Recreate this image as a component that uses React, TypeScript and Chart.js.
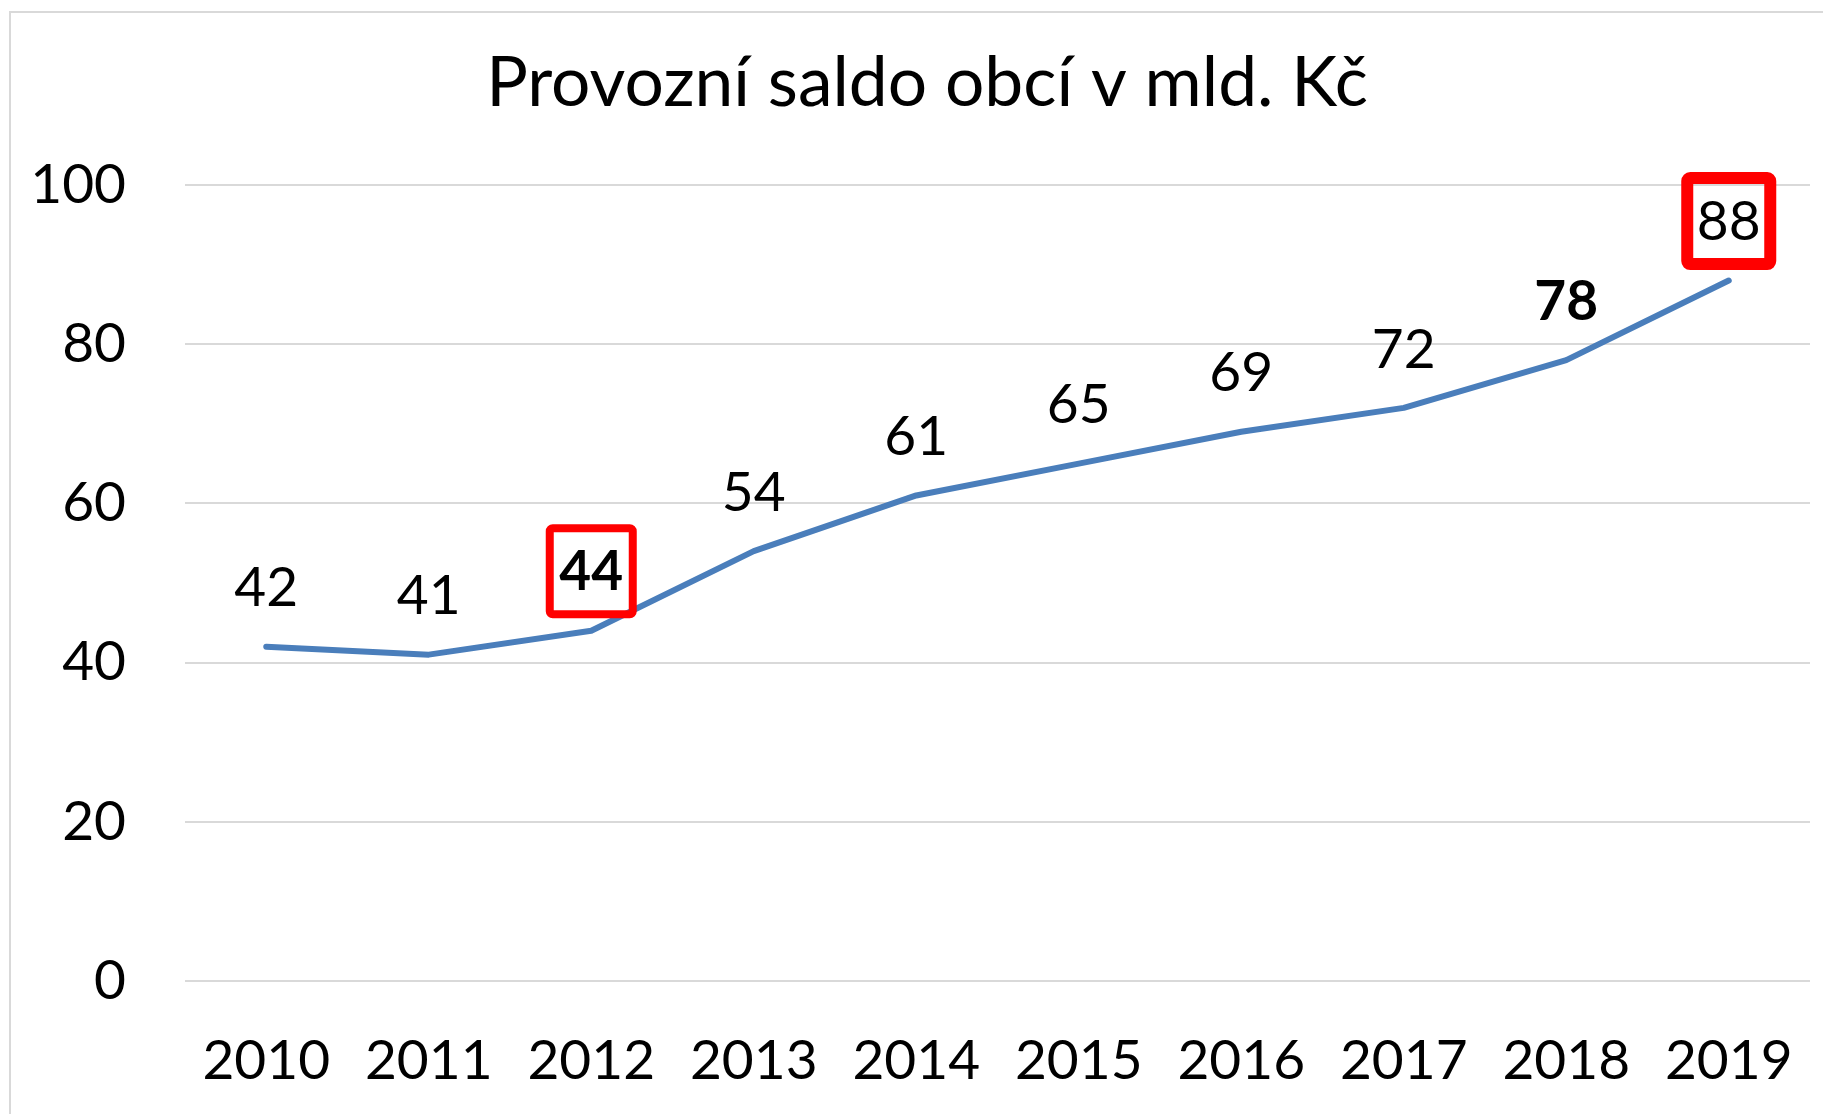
import React, { useEffect, useRef } from 'react';
import { Chart, registerables } from 'chart.js';

Chart.register(...registerables);

const years = ['2010', '2011', '2012', '2013', '2014', '2015', '2016', '2017', '2018', '2019'];
const saldo = [42, 41, 44, 54, 61, 65, 69, 72, 78, 88];
const boldIndexes = [2, 8];
const boxedIndexes = [2, 9];
const boxLineWidths = [8, 12];
const yMin = 0;
const yMax = 100;
const yStep = 20;
const chartTitle = 'Provozní saldo obcí v mld. Kč';

const FONT = 'Lato';
const LABEL_SIZE = 55;

const frameAndLabels = {
  id: 'frameAndLabels',
  beforeDraw(chart: any) {
    const ctx = chart.ctx;
    ctx.save();
    ctx.fillStyle = '#ffffff';
    ctx.fillRect(0, 0, chart.width, chart.height);
    ctx.strokeStyle = '#d9d9d9';
    ctx.lineWidth = 2;
    ctx.strokeRect(10, 12, chart.width + 20, chart.height + 20);
    ctx.font = `69.5px ${FONT}`;
    ctx.fillStyle = '#000000';
    ctx.textAlign = 'center';
    ctx.textBaseline = 'middle';
    ctx.fillText(chartTitle, 927, 84);
    ctx.restore();
  },
  afterDatasetsDraw(chart: any) {
    const ctx = chart.ctx;
    const meta = chart.getDatasetMeta(0);
    ctx.save();
    ctx.textAlign = 'center';
    ctx.textBaseline = 'middle';
    meta.data.forEach((pt: any, i: number) => {
      const lx = pt.x;
      const ly = pt.y - 58;
      const bold = boldIndexes.includes(i);
      ctx.font = `${bold ? 'bold ' : ''}${LABEL_SIZE}px ${FONT}`;
      ctx.fillStyle = '#000000';
      ctx.fillText(String(saldo[i]), lx, ly);
      const b = boxedIndexes.indexOf(i);
      if (b >= 0) {
        const w = 83;
        const h = 86;
        ctx.strokeStyle = '#ff0000';
        ctx.lineWidth = boxLineWidths[b];
        ctx.lineJoin = 'round';
        ctx.beginPath();
        ctx.roundRect(lx - w / 2, ly - 1.5 - h / 2, w, h, 3);
        ctx.stroke();
      }
    });
    ctx.restore();
  },
};

export default function App() {
  const canvasRef = useRef<HTMLCanvasElement | null>(null);

  useEffect(() => {
    if (!canvasRef.current) return;
    const chart = new Chart(canvasRef.current, {
      type: 'line',
      data: {
        labels: years,
        datasets: [
          {
            data: saldo,
            borderColor: '#4a7ebb',
            borderWidth: 6,
            borderCapStyle: 'round',
            borderJoinStyle: 'round',
            pointRadius: 0,
            tension: 0,
            fill: false,
          },
        ],
      },
      options: {
        animation: false,
        responsive: true,
        maintainAspectRatio: false,
        layout: { padding: { left: 10, right: 13, top: 185, bottom: 0 } },
        plugins: {
          legend: { display: false },
          tooltip: { enabled: false },
          title: { display: false },
        },
        scales: {
          x: {
            offset: true,
            grid: { display: false, drawTicks: false },
            border: { display: false },
            ticks: {
              color: '#000000',
              padding: 47,
              maxRotation: 0,
              autoSkip: false,
              font: { family: FONT, size: LABEL_SIZE, lineHeight: 1.2 },
            },
            afterFit(scale: any) {
              scale.height = 133;
              scale.paddingLeft = 0;
              scale.paddingRight = 0;
            },
          },
          y: {
            min: yMin,
            max: yMax,
            grid: { color: '#d9d9d9', lineWidth: 2, drawTicks: false },
            border: { display: false },
            ticks: {
              stepSize: yStep,
              color: '#000000',
              padding: 59,
              font: { family: FONT, size: LABEL_SIZE, lineHeight: 1.2 },
            },
            afterFit(scale: any) {
              scale.width = 175;
              scale.paddingTop = 0;
              scale.paddingBottom = 0;
            },
          },
        },
      },
      plugins: [frameAndLabels],
    });
    return () => chart.destroy();
  }, []);

  return (
    <div style={{ position: 'fixed', left: 0, top: 0, width: 1823, height: 1114 }}>
      <canvas ref={canvasRef} />
    </div>
  );
}
